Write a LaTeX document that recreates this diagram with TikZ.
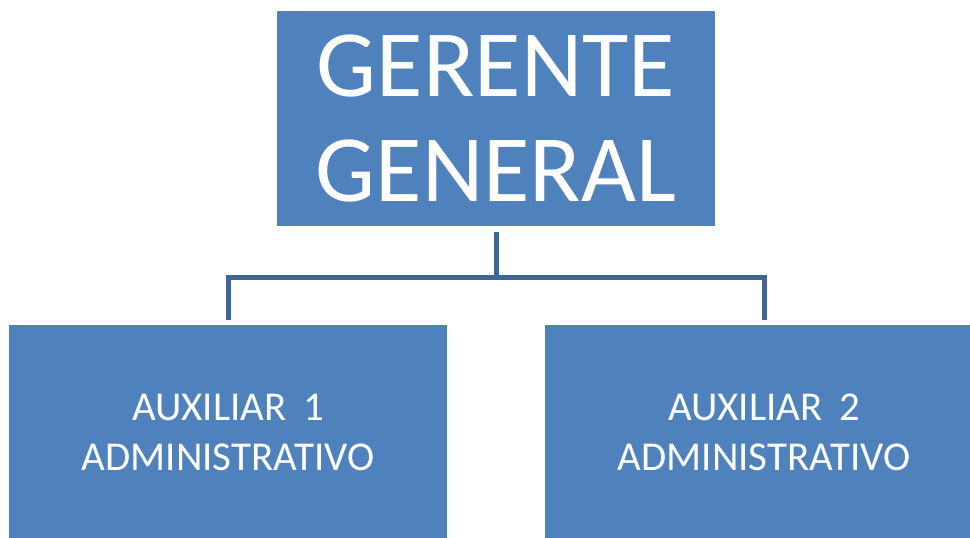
\documentclass[tikz,border=0pt]{standalone}
\usepackage{fontspec}
\setmainfont{Carlito}
\usetikzlibrary{trees}
\definecolor{cargoblue}{RGB}{79,129,189}
\definecolor{forkblue}{RGB}{62,101,151}

\begin{document}
\begin{tikzpicture}[level distance=314pt,sibling distance=536pt,
    cargo/.style={fill=cargoblue,text=white,inner sep=0pt,align=center,
        minimum width=438pt,minimum height=215pt},
    edge from parent/.style={draw=forkblue,line width=5pt},
    edge from parent path={([yshift=-6pt]\tikzparentnode.south) -- ++(0pt,-45pt)
        -| ([yshift=5pt]\tikzchildnode.north)}]
    \path[use as bounding box,clip] (0pt,0pt) rectangle (970pt,-538pt);
    \node[cargo,font=\fontsize{95}{105}\selectfont] (gerente) at (496pt,-118.5pt) {GERENTE\\GENERAL}
    child {node[cargo,font=\fontsize{41}{49.5}\selectfont] (aux1) {AUXILIAR\hspace{0.4em}1\\ADMINISTRATIVO}}
    child {node[cargo,font=\fontsize{41}{49.5}\selectfont] (aux2) {AUXILIAR\hspace{0.4em}2\\ADMINISTRATIVO}};
\end{tikzpicture}
\end{document}
